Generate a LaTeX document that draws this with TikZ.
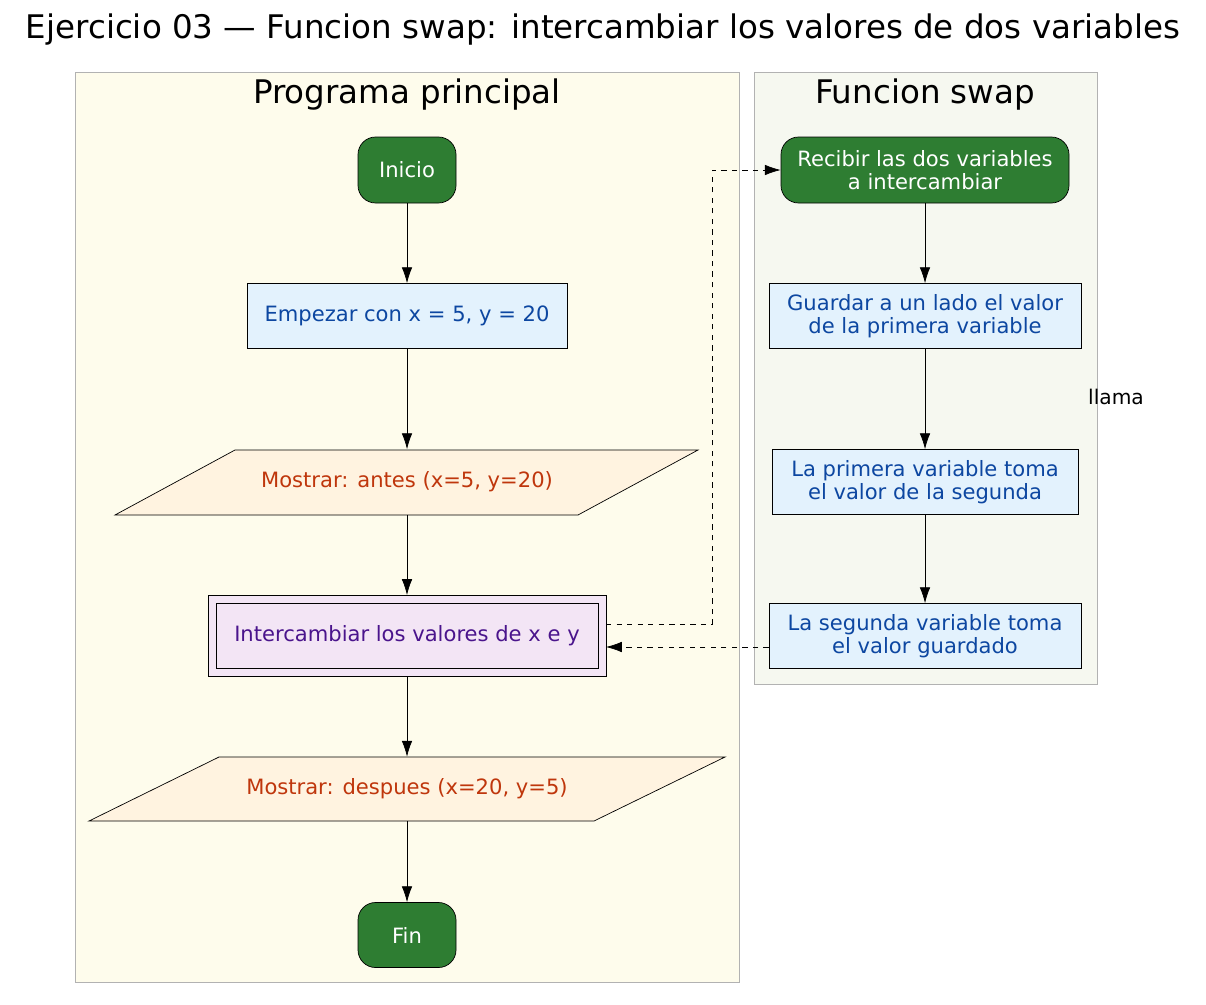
\documentclass[tikz,border=0pt]{standalone}
\usepackage{fontspec}
\setmainfont{DejaVu Sans}
\usetikzlibrary{arrows.meta,positioning}

\definecolor{startgreen}{HTML}{2E7D32}
\definecolor{procfill}{HTML}{E3F2FD}
\definecolor{proctext}{HTML}{0D47A1}
\definecolor{iofill}{HTML}{FFF3E0}
\definecolor{iotext}{HTML}{BF360C}
\definecolor{subfill}{HTML}{F3E5F5}
\definecolor{subtext}{HTML}{4A148C}
\definecolor{mainbg}{HTML}{FEFCEC}
\definecolor{swapbg}{HTML}{F6F8F0}

\tikzset{
  terminal/.style={draw, rounded corners=10pt, fill=startgreen, text=white, font=\fontsize{12}{13}\selectfont, align=center},
  procbox/.style={draw, fill=procfill, text=proctext, font=\fontsize{12}{13}\selectfont, align=center, minimum height=65*0.02cm},
  iotextnode/.style={text=iotext, font=\fontsize{12}{13}\selectfont},
  cluster/.style={draw=black!30},
  flow/.style={-{Latex[length=9pt,width=6pt]}},
}

\begin{document}
\begin{tikzpicture}[x=0.02cm,y=-0.02cm]
  \useasboundingbox (0,0) rectangle (1206,1004);

  \node (title) at (603,30) {\fontsize{18.5}{20}\selectfont Ejercicio 03 --- Funcion swap: intercambiar los valores de dos variables};

  % clusters
  \draw [cluster, fill=mainbg] (75,72) rectangle (739,982);
  \draw [cluster, fill=swapbg] (754,72) rectangle (1097,684);
  \node (mainlbl) at (407,95) {\fontsize{18.5}{20}\selectfont Programa principal};
  \node (swaplbl) at (925,95) {\fontsize{18.5}{20}\selectfont Funcion swap};

  % main program
  \node [terminal, minimum width=98*0.02cm, minimum height=66*0.02cm] (inicio) at (407,170) {Inicio};
  \node [procbox, minimum width=320*0.02cm] (empezar) at (407,316) {Empezar con x = 5, y = 20};
  \draw [fill=iofill] (235,450) -- (698,450) -- (578,515) -- (115,515) -- cycle;
  \node [iotextnode, minimum height=65*0.02cm] (antes) at (407,482) {Mostrar: antes (x=5, y=20)};
  \draw [fill=subfill] (208,595) rectangle (606,676);
  \node [draw, fill=subfill, text=subtext, font=\fontsize{12}{13}\selectfont, minimum width=382*0.02cm, minimum height=65*0.02cm] (swapcall) at (407,635.5) {Intercambiar los valores de x e y};
  \draw [fill=iofill] (219,757) -- (725,757) -- (594,821) -- (89,821) -- cycle;
  \node [iotextnode, minimum height=64*0.02cm] (despues) at (407,789) {Mostrar: despues (x=20, y=5)};
  \node [terminal, minimum width=98*0.02cm, minimum height=65*0.02cm] (fin) at (407,935) {Fin};

  % swap function
  \node [terminal, minimum width=288*0.02cm, minimum height=66*0.02cm] (recibir) at (925,170) {Recibir las dos variables\\a intercambiar};
  \node [procbox, minimum width=312*0.02cm] (guardar) at (925,316) {Guardar a un lado el valor\\de la primera variable};
  \node [procbox, minimum width=306*0.02cm] (primera) at (925,482) {La primera variable toma\\el valor de la segunda};
  \node [procbox, minimum width=312*0.02cm] (segunda) at (925,636) {La segunda variable toma\\el valor guardado};
  \node [font=\fontsize{11.5}{13}\selectfont] (llama) at (1116,397) {llama};

  \draw [flow] (inicio) -- (empezar);
  \draw [flow] (empezar) -- (antes);
  \draw [flow] (antes) -- (407,595);
  \draw [flow] (407,676) -- (despues);
  \draw [flow] (despues) -- (fin);
  \draw [flow] (recibir) -- (guardar);
  \draw [flow] (guardar) -- (primera);
  \draw [flow] (primera) -- (segunda);

  \coordinate (callout) at (606,624);
  \coordinate (bend) at (712,624);
  \coordinate (backin) at (606,647);
  \draw [flow, dashed] (callout) -- (bend) |- (recibir.west);
  \draw [flow, dashed] (segunda.west |- backin) -- (backin);
\end{tikzpicture}
\end{document}
